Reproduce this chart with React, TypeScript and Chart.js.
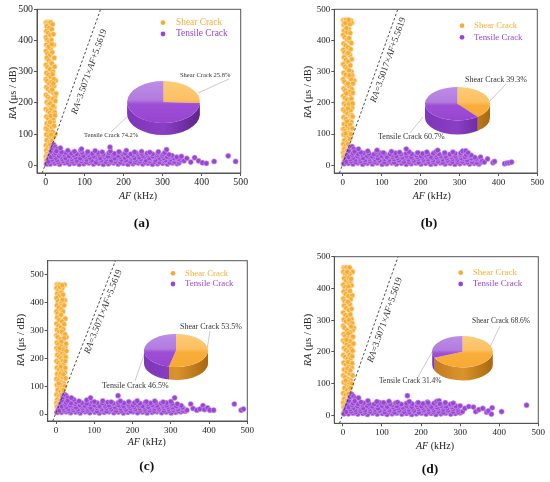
import { useEffect, useRef } from 'react';
import Chart from 'chart.js/auto';

type Pt = [number, number];

// ---- data ----
const xTicks = [0, 100, 200, 300, 400, 500];
const yTicks = [0, 100, 200, 300, 400, 500];
const seriesNames = ['Shear Crack', 'Tensile Crack'];
const captions = ['(a)', '(b)', '(c)', '(d)'];
const slopes = [3.5071, 3.5017, 3.5071, 3.5071];
const intercepts = [5.5619, 5.5619, 5.5619, 5.5619];
const yMaxes = [500, 500, 550, 500];

const sharesA = [25.8, 74.2];
const sharesB = [39.3, 60.7];
const sharesC = [53.5, 46.5];
const sharesD = [68.6, 31.4];

const shearA: Pt[] = [
  [1, 458], [4, 458], [7, 458], [10, 458], [13, 458],
  [3, 446], [9, 440], [2, 430], [6, 424], [12, 418], [1, 410], [4, 402], [9, 396], [2, 386], [7, 380],
  [13, 374], [1, 366], [5, 358], [10, 352], [3, 344], [8, 336], [14, 330], [1, 322], [5, 314], [11, 308],
  [19, 300], [2, 296], [7, 290], [13, 284], [1, 276], [4, 270], [26, 272], [9, 262], [16, 256], [2, 250],
  [6, 244], [12, 238], [20, 232], [1, 226], [5, 220], [10, 214], [15, 208], [3, 202], [8, 196], [13, 190],
  [22, 186], [1, 180], [6, 174], [11, 168], [17, 162], [2, 156], [7, 150], [14, 144], [20, 140], [3, 134],
  [9, 128], [16, 122], [1, 118], [5, 112], [12, 106], [25, 100], [2, 98], [8, 92], [15, 86], [3, 80],
  [10, 74], [18, 70], [1, 64], [6, 58], [13, 54], [2, 48], [8, 42], [4, 36], [1, 28], [6, 22],
  [2, 16], [4, 9], [1, 4],
  [18, 452], [16, 436], [20, 420], [15, 402], [21, 386], [17, 362], [22, 344], [16, 326], [23, 316],
  [18, 292], [21, 276], [15, 266], [22, 254], [17, 242], [24, 220], [19, 212], [12, 198], [23, 170],
  [15, 182], [20, 150], [13, 158], [22, 126], [11, 138], [18, 108], [21, 92], [16, 78], [12, 66],
  [16, 46], [11, 32], [9, 16], [12, 14], [7, 30], [14, 98], [25, 206], [27, 230], [20, 262], [19, 190],
  [24, 160], [8, 380], [16, 388],
];
const tensileA: Pt[] = [
  [3, 4], [6, 14], [9, 22], [12, 32], [15, 44], [18, 55], [21, 65], [25, 58], [30, 52],
  [12, 4], [24, 6], [36, 3], [49, 7], [61, 4], [73, 6], [86, 3], [98, 5], [111, 7], [123, 4], [136, 6],
  [148, 3], [161, 5], [174, 7], [186, 4], [199, 6], [211, 3], [224, 5], [237, 7], [249, 4], [262, 6],
  [274, 3], [287, 5], [300, 6], [312, 4], [325, 7], [337, 5],
  [8, 11], [20, 12], [32, 10], [44, 13], [56, 9], [68, 12], [80, 11], [92, 13], [104, 10], [117, 12],
  [129, 9], [142, 13], [154, 11], [167, 10], [179, 12], [192, 9], [204, 13], [217, 11], [229, 10],
  [242, 12], [255, 9], [267, 13], [280, 11], [292, 10], [305, 12], [318, 9], [330, 11], [342, 8],
  [17, 18], [29, 16], [42, 20], [55, 17], [67, 19], [80, 15], [93, 20], [105, 18], [118, 16], [131, 21],
  [143, 17], [156, 19], [168, 15], [181, 20], [194, 18], [206, 16], [219, 21], [231, 17], [244, 19],
  [257, 15], [269, 20], [282, 17], [294, 19], [307, 16], [320, 18], [333, 20], [345, 15],
  [14, 26], [26, 24], [39, 27], [51, 23], [64, 26], [77, 25], [89, 22], [102, 27], [114, 24], [127, 26],
  [140, 23], [152, 25], [165, 27], [177, 22], [190, 26], [203, 24], [215, 27], [228, 23], [240, 25],
  [253, 27], [266, 22], [278, 26], [291, 24], [303, 23], [316, 25], [329, 22], [341, 20],
  [22, 33], [34, 30], [47, 34], [60, 29], [72, 32], [85, 35], [97, 30], [110, 33], [123, 29], [135, 34],
  [148, 31], [160, 28], [173, 33], [186, 30], [198, 35], [211, 29], [223, 32], [236, 34], [249, 30],
  [261, 33], [274, 28], [286, 32], [299, 30], [311, 27], [324, 31], [336, 26],
  [25, 39], [38, 37], [52, 40], [66, 38], [79, 36], [93, 41], [106, 38], [120, 37], [134, 40], [148, 36],
  [162, 39], [176, 37], [190, 40], [204, 38], [218, 36], [232, 39], [246, 37], [260, 38], [274, 36],
  [288, 38], [302, 35], [316, 34],
  [28, 45], [41, 42], [57, 47], [74, 44], [90, 48], [108, 43], [127, 46], [145, 42], [166, 45], [188, 43],
  [207, 47], [228, 42], [246, 44], [267, 41], [289, 43], [305, 40],
  [38, 55], [92, 52], [165, 58], [310, 50], [348, 28], [355, 14], [362, 22], [372, 10], [382, 24],
  [392, 14], [402, 8], [412, 6], [432, 12], [468, 30], [487, 12],
];

const shearB: Pt[] = [
  [1, 465], [4, 462], [8, 466], [11, 460], [21, 464], [23, 456], [2, 450], [7, 446], [12, 440], [3, 432],
  [9, 426], [1, 418], [5, 410], [11, 404], [17, 398], [2, 390], [7, 384], [13, 378], [1, 370], [4, 362],
  [10, 356], [18, 354], [3, 346], [8, 338], [14, 332], [1, 324], [6, 316], [11, 310], [22, 300], [2, 296],
  [7, 290], [15, 284], [1, 276], [29, 272], [4, 268], [26, 262], [10, 258], [17, 252], [2, 246], [6, 240],
  [13, 234], [20, 228], [1, 222], [5, 216], [11, 210], [17, 204], [3, 198], [8, 192], [14, 186], [24, 184],
  [1, 178], [6, 172], [12, 166], [19, 160], [2, 154], [8, 148], [15, 142], [22, 138], [3, 132], [10, 126],
  [17, 120], [1, 116], [6, 110], [13, 104], [2, 98], [9, 92], [16, 86], [4, 80], [11, 74], [1, 68],
  [7, 62], [14, 58], [3, 52], [9, 46], [1, 40], [5, 34], [2, 26], [6, 20], [3, 12], [1, 6],
  [18, 452], [15, 438], [19, 424], [16, 408], [22, 392], [20, 372], [14, 360], [23, 340], [19, 320],
  [16, 304], [24, 288], [21, 276], [13, 262], [23, 244], [18, 236], [9, 230], [22, 214], [16, 196],
  [25, 198], [20, 176], [13, 182], [23, 160], [11, 140], [19, 130], [24, 118], [14, 96], [21, 100],
  [18, 84], [13, 68], [16, 50], [10, 34], [8, 14], [12, 28], [7, 102], [9, 440], [6, 456], [15, 466],
  [17, 288], [26, 232], [25, 156],
];
const tensileB: Pt[] = [
  [3, 5], [6, 13], [9, 24], [12, 34], [16, 46], [20, 58], [24, 60], [28, 52],
  [14, 6], [26, 4], [38, 7], [51, 3], [63, 6], [76, 4], [88, 7], [101, 3], [113, 5], [126, 7], [138, 4],
  [151, 6], [163, 3], [176, 5], [188, 7], [201, 4], [213, 6], [226, 3], [238, 5], [251, 7], [263, 4],
  [276, 6], [288, 3], [301, 5], [313, 7], [326, 4], [338, 6], [350, 4],
  [9, 11], [21, 12], [33, 10], [45, 13], [57, 9], [70, 12], [82, 11], [95, 13], [107, 10], [120, 12],
  [132, 9], [145, 13], [157, 11], [170, 10], [182, 12], [195, 9], [207, 13], [220, 11], [232, 10],
  [245, 12], [257, 9], [270, 13], [282, 11], [295, 10], [307, 12], [320, 9], [332, 11], [345, 8], [356, 10],
  [19, 19], [32, 17], [44, 21], [57, 16], [69, 20], [82, 18], [94, 15], [107, 20], [119, 17], [132, 19],
  [144, 16], [157, 21], [169, 18], [182, 15], [194, 20], [207, 17], [219, 19], [232, 16], [244, 21],
  [257, 18], [269, 15], [282, 20], [294, 17], [307, 19], [319, 16], [332, 20], [344, 18],
  [15, 26], [27, 24], [40, 27], [52, 23], [65, 26], [78, 25], [90, 22], [103, 27], [115, 24], [128, 26],
  [141, 23], [153, 25], [166, 27], [178, 22], [191, 26], [204, 24], [216, 27], [229, 23], [241, 25],
  [254, 27], [267, 22], [279, 26], [292, 24], [304, 23], [317, 25], [330, 22], [342, 21],
  [24, 32], [37, 29], [50, 34], [62, 30], [75, 28], [88, 33], [100, 30], [113, 27], [126, 32], [138, 29],
  [151, 34], [163, 30], [176, 27], [189, 32], [201, 29], [214, 31], [226, 27], [239, 33], [251, 30],
  [264, 28], [277, 32], [289, 29], [302, 31], [314, 26], [327, 30], [339, 25],
  [26, 38], [39, 36], [53, 39], [67, 37], [80, 35], [94, 40], [107, 37], [121, 36], [135, 39], [149, 35],
  [163, 38], [177, 36], [191, 39], [205, 37], [219, 35], [233, 38], [247, 36], [261, 37], [275, 35],
  [289, 37], [303, 34], [317, 33], [330, 32],
  [30, 44], [46, 41], [64, 45], [87, 43], [104, 40], [125, 44], [146, 41], [170, 43], [193, 40], [216, 42],
  [240, 44], [262, 40], [283, 42], [303, 39],
  [40, 52], [88, 48], [163, 52], [244, 48], [308, 45], [316, 46], [322, 40], [354, 26], [358, 14],
  [364, 10], [372, 20], [386, 8], [390, 12], [416, 5], [422, 7], [428, 8], [434, 10],
];

const shearC: Pt[] = [
  [2, 465], [5, 462], [9, 464], [22, 464], [1, 452], [6, 446], [11, 440], [3, 432], [8, 424], [19, 412],
  [23, 408], [1, 416], [5, 404], [12, 398], [2, 390], [7, 382], [14, 376], [1, 368], [4, 360], [10, 354],
  [3, 346], [8, 338], [24, 342], [15, 332], [1, 324], [6, 316], [12, 310], [2, 302], [8, 296], [17, 290],
  [1, 282], [4, 276], [27, 276], [11, 268], [19, 262], [2, 256], [6, 250], [13, 244], [1, 236], [5, 230],
  [10, 224], [16, 218], [3, 212], [8, 206], [14, 200], [21, 196], [1, 190], [6, 184], [12, 178], [18, 172],
  [2, 166], [8, 160], [15, 154], [23, 150], [3, 144], [10, 138], [17, 132], [1, 126], [6, 120], [13, 114],
  [20, 110], [2, 104], [9, 98], [16, 92], [4, 86], [11, 80], [18, 74], [1, 70], [7, 64], [14, 58],
  [3, 52], [9, 46], [1, 40], [5, 34], [2, 26], [6, 20], [3, 12], [1, 6],
  [16, 452], [14, 436], [18, 428], [15, 404], [21, 390], [18, 368], [13, 356], [21, 322], [19, 304],
  [15, 296], [23, 286], [21, 272], [14, 260], [24, 240], [18, 232], [9, 236], [22, 210], [17, 190],
  [25, 204], [20, 180], [13, 170], [24, 166], [12, 146], [19, 142], [25, 128], [15, 104], [22, 100],
  [19, 86], [14, 68], [16, 50], [10, 32], [8, 14], [12, 26], [7, 110], [10, 456], [16, 462], [26, 252],
  [24, 190], [17, 410], [27, 226],
];
const tensileC: Pt[] = [
  [3, 6], [6, 15], [9, 25], [12, 36], [16, 48], [19, 60], [22, 70], [26, 66], [30, 58],
  [14, 6], [26, 8], [38, 5], [51, 7], [63, 4], [76, 8], [88, 5], [101, 7], [113, 4], [126, 6], [138, 8],
  [151, 5], [163, 7], [176, 4], [188, 6], [201, 8], [213, 5], [226, 7], [238, 4], [251, 6], [263, 8],
  [276, 5], [288, 7], [301, 4], [313, 6], [326, 8], [338, 10],
  [9, 12], [21, 13], [33, 11], [45, 14], [57, 10], [70, 13], [82, 12], [95, 14], [107, 11], [120, 13],
  [132, 10], [145, 14], [157, 12], [170, 11], [182, 13], [195, 10], [207, 14], [220, 12], [232, 11],
  [245, 13], [257, 10], [270, 14], [282, 12], [295, 11], [307, 13], [320, 10], [332, 12], [342, 14],
  [19, 20], [32, 18], [44, 22], [57, 17], [69, 21], [82, 19], [94, 16], [107, 21], [119, 18], [132, 20],
  [144, 17], [157, 22], [169, 19], [182, 16], [194, 21], [207, 18], [219, 20], [232, 17], [244, 22],
  [257, 19], [269, 16], [282, 21], [294, 18], [307, 20], [319, 17], [332, 21],
  [15, 27], [27, 25], [40, 28], [52, 24], [65, 27], [78, 26], [90, 23], [103, 28], [115, 25], [128, 27],
  [141, 24], [153, 26], [166, 28], [178, 23], [191, 27], [204, 25], [216, 28], [229, 24], [241, 26],
  [254, 28], [267, 23], [279, 27], [292, 25], [304, 24], [317, 26], [330, 23],
  [24, 34], [37, 31], [50, 36], [62, 32], [75, 30], [88, 35], [100, 32], [113, 29], [126, 34], [138, 31],
  [151, 36], [163, 32], [176, 29], [189, 34], [201, 31], [214, 33], [226, 29], [239, 35], [251, 32],
  [264, 30], [277, 34], [289, 31], [302, 33], [314, 28], [327, 30],
  [26, 41], [39, 39], [53, 42], [67, 40], [80, 38], [94, 43], [107, 40], [121, 39], [135, 42], [149, 38],
  [163, 41], [177, 39], [191, 42], [205, 40], [219, 38], [233, 41], [247, 39], [261, 40], [275, 38],
  [289, 40], [303, 37], [317, 36],
  [30, 48], [46, 52], [60, 46], [80, 50], [100, 44], [122, 47], [144, 43], [168, 46], [190, 44], [212, 47],
  [236, 44], [258, 46], [280, 43], [300, 45],
  [40, 58], [90, 58], [162, 66], [310, 58], [352, 36], [358, 20], [368, 14], [376, 18], [384, 30],
  [388, 16], [396, 22], [402, 14], [412, 14], [466, 36], [484, 14], [490, 18],
];

const shearD: Pt[] = [
  [2, 466], [5, 463], [9, 466], [13, 460], [20, 458], [25, 452], [1, 452], [6, 446], [11, 440], [3, 432],
  [8, 424], [15, 418], [22, 410], [1, 412], [5, 404], [12, 398], [2, 390], [7, 382], [14, 376], [24, 378],
  [1, 368], [4, 360], [10, 354], [18, 350], [3, 346], [8, 338], [15, 332], [1, 324], [6, 316], [12, 310],
  [22, 304], [2, 302], [8, 296], [17, 290], [1, 282], [4, 276], [28, 276], [25, 268], [11, 268], [19, 262],
  [2, 256], [6, 250], [13, 244], [1, 236], [5, 230], [10, 224], [16, 218], [3, 212], [8, 206], [14, 200],
  [21, 196], [1, 190], [6, 184], [12, 178], [18, 172], [2, 166], [8, 160], [15, 154], [23, 150], [3, 144],
  [10, 138], [17, 132], [1, 126], [6, 120], [13, 114], [20, 110], [2, 104], [9, 98], [16, 92], [4, 86],
  [11, 80], [18, 74], [1, 70], [7, 64], [14, 58], [3, 52], [9, 46], [1, 40], [5, 34], [2, 26],
  [6, 20], [3, 12], [1, 6],
  [17, 446], [15, 432], [19, 424], [14, 406], [18, 392], [20, 366], [13, 358], [22, 336], [19, 318],
  [16, 300], [24, 290], [21, 280], [14, 258], [23, 244], [18, 234], [9, 238], [22, 210], [17, 190],
  [25, 204], [20, 180], [13, 168], [24, 164], [12, 148], [19, 142], [25, 126], [15, 104], [22, 100],
  [19, 86], [14, 68], [16, 50], [10, 32], [8, 14], [12, 26], [7, 110], [17, 466], [11, 452], [26, 248],
  [24, 186], [21, 430], [27, 226],
];
const tensileD: Pt[] = [
  [3, 5], [6, 14], [9, 24], [12, 34], [16, 46], [19, 58], [23, 66], [27, 60], [32, 54],
  [14, 5], [26, 7], [38, 4], [51, 6], [63, 3], [76, 7], [88, 4], [101, 6], [113, 3], [126, 5], [138, 7],
  [151, 4], [163, 6], [176, 3], [188, 5], [201, 7], [213, 4], [226, 6], [238, 3], [251, 5], [263, 7],
  [276, 4], [288, 6], [300, 8],
  [9, 11], [21, 12], [33, 10], [45, 13], [57, 9], [70, 12], [82, 11], [95, 13], [107, 10], [120, 12],
  [132, 9], [145, 13], [157, 11], [170, 10], [182, 12], [195, 9], [207, 13], [220, 11], [232, 10],
  [245, 12], [257, 9], [270, 13], [282, 11], [295, 10], [306, 12],
  [19, 19], [32, 17], [44, 21], [57, 16], [69, 20], [82, 18], [94, 15], [107, 20], [119, 17], [132, 19],
  [144, 16], [157, 21], [169, 18], [182, 15], [194, 20], [207, 17], [219, 19], [232, 16], [244, 21],
  [257, 18], [269, 15], [282, 20], [294, 17],
  [15, 26], [27, 24], [40, 27], [52, 23], [65, 26], [78, 25], [90, 22], [103, 27], [115, 24], [128, 26],
  [141, 23], [153, 25], [166, 27], [178, 22], [191, 26], [204, 24], [216, 27], [229, 23], [241, 25],
  [254, 27], [267, 22], [279, 26], [292, 24],
  [24, 32], [37, 29], [50, 34], [62, 30], [75, 28], [88, 33], [100, 30], [113, 27], [126, 32], [138, 29],
  [151, 34], [163, 30], [176, 27], [189, 32], [201, 29], [214, 31], [226, 27], [239, 33], [251, 30],
  [264, 28], [277, 32], [289, 29],
  [26, 38], [39, 36], [53, 39], [67, 37], [80, 35], [94, 40], [107, 37], [121, 36], [135, 39], [149, 35],
  [163, 38], [177, 36], [191, 39], [205, 37], [219, 35], [233, 38], [247, 36], [261, 37], [275, 35],
  [30, 45], [46, 42], [64, 46], [87, 43], [104, 40], [118, 44], [140, 41], [170, 43], [193, 40], [216, 42],
  [240, 44], [262, 40], [283, 38],
  [40, 55], [165, 62], [218, 40], [246, 46], [248, 36], [282, 38], [300, 30], [312, 22], [322, 28],
  [334, 26], [340, 12], [348, 18], [358, 22], [368, 10], [372, 14], [380, 4], [382, 24], [406, 12], [470, 32],
];

// ---- styling / layout ----
const SERIF = '"Liberation Serif", "Times New Roman", serif';
const SHEAR = '#F7AD35';
const TENSILE = '#9B45D2';
const X_MIN = -22;
const Y_MIN = -25;
const Y_AXIS_W = 28;
const X_AXIS_H = 18;
const DOT_R = 2.6;

interface Layout {
  ox: number; oy: number; w: number; h: number;
  area: { l: number; t: number; r: number; b: number };
  tickSize: number; legendSize: number; labelSize: number;
  legend: { dotX: number; y1: number; y2: number; textX: number };
  yTitle: [number, number]; xTitle: [number, number];
  eq: [number, number];
  pie: { cx: number; cy: number; rx: number; ry: number; t: number };
  shearLabel: [number, number]; shearLead: [number, number, number, number];
  tensileLabel: [number, number]; tensileLead: [number, number, number, number];
  caption: [number, number];
}

const layouts: Layout[] = [
  {
    ox: 0, oy: 0, w: 275, h: 240, area: { l: 37, t: 9.3, r: 240.7, b: 173 },
    tickSize: 9.8, legendSize: 9.4, labelSize: 6.5,
    legend: { dotX: 163, y1: 22.7, y2: 34, textX: 176 },
    yTitle: [13.3, 93], xTitle: [138, 196.7], eq: [89.3, 71.7],
    pie: { cx: 163.7, cy: 102, rx: 36.4, ry: 21, t: 12 },
    shearLabel: [180, 75], shearLead: [229, 79, 198, 93],
    tensileLabel: [84, 135], tensileLead: [111, 132, 128, 116],
    caption: [141.7, 224],
  },
  {
    ox: 275, oy: 0, w: 275, h: 240, area: { l: 59.3, t: 9.3, r: 262.3, b: 173 },
    tickSize: 9, legendSize: 8.8, labelSize: 8,
    legend: { dotX: 187, y1: 25.7, y2: 37.3, textX: 199 },
    yTitle: [33.3, 92], xTitle: [156.7, 196.7], eq: [113.3, 60],
    pie: { cx: 182.5, cy: 103.3, rx: 32.5, ry: 16.7, t: 14 },
    shearLabel: [190, 80], shearLead: [231, 84, 214, 102],
    tensileLabel: [103, 137], tensileLead: [135, 133, 148, 117],
    caption: [154, 224],
  },
  {
    ox: 0, oy: 240, w: 275, h: 242, area: { l: 47.7, t: 20.7, r: 247.3, b: 181 },
    tickSize: 9, legendSize: 8.8, labelSize: 8,
    legend: { dotX: 173, y1: 33.3, y2: 44, textX: 185 },
    yTitle: [21.7, 100], xTitle: [146.7, 202.7], eq: [103.3, 71.7],
    pie: { cx: 176.3, cy: 110.3, rx: 32, ry: 16.5, t: 13 },
    shearLabel: [180, 87], shearLead: [210, 91, 207, 110],
    tensileLabel: [102, 146], tensileLead: [135, 141, 145, 112],
    caption: [146.7, 227],
  },
  {
    ox: 275, oy: 240, w: 275, h: 242, area: { l: 59.3, t: 16.7, r: 263.3, b: 183.3 },
    tickSize: 9, legendSize: 9, labelSize: 7.5,
    legend: { dotX: 185.7, y1: 32.7, y2: 44, textX: 197.7 },
    yTitle: [33.3, 100], xTitle: [160, 206.7], eq: [110, 80],
    pie: { cx: 187, cy: 111.3, rx: 30.3, ry: 15.7, t: 13 },
    shearLabel: [197, 81], shearLead: [225, 86, 215, 107],
    tensileLabel: [104, 141], tensileLead: [143, 137, 157, 112],
    caption: [155, 230],
  },
];

const panelData = [
  { shear: shearA, tensile: tensileA, shares: sharesA },
  { shear: shearB, tensile: tensileB, shares: sharesB },
  { shear: shearC, tensile: tensileC, shares: sharesC },
  { shear: shearD, tensile: tensileD, shares: sharesD },
];

function richText(
  ctx: CanvasRenderingContext2D, parts: [string, boolean][], x: number, y: number, size: number,
) {
  const widths = parts.map(([t, it]) => {
    ctx.font = `${it ? 'italic ' : ''}${size}px ${SERIF}`;
    return ctx.measureText(t).width;
  });
  let cx = x - widths.reduce((a, b) => a + b, 0) / 2;
  ctx.textAlign = 'left';
  ctx.textBaseline = 'middle';
  parts.forEach(([t, it], i) => {
    ctx.font = `${it ? 'italic ' : ''}${size}px ${SERIF}`;
    ctx.fillText(t, cx, y);
    cx += widths[i];
  });
}

function decorPlugin(i: number) {
  const L = layouts[i];
  const { shares } = panelData[i];
  return {
    id: 'decor' + i,
    afterDraw(chart: any) {
      const ctx: CanvasRenderingContext2D = chart.ctx;
      const { left, top, right, bottom } = chart.chartArea;
      const xs = chart.scales.x;
      const ys = chart.scales.y;
      ctx.save();
      ctx.strokeStyle = '#555';
      ctx.lineWidth = 1;
      ctx.strokeRect(left, top, right - left, bottom - top);

      // legend
      const rows: [string, string, number][] = [
        [seriesNames[0], SHEAR, L.legend.y1],
        [seriesNames[1], TENSILE, L.legend.y2],
      ];
      rows.forEach(([name, col, y]) => {
        ctx.fillStyle = col;
        ctx.beginPath();
        ctx.arc(L.legend.dotX, y, 2.4, 0, Math.PI * 2);
        ctx.fill();
        ctx.font = `${L.legendSize}px ${SERIF}`;
        ctx.textAlign = 'left';
        ctx.textBaseline = 'middle';
        ctx.fillText(name, L.legend.textX, y);
      });

      // axis titles
      ctx.fillStyle = '#222';
      richText(ctx, [['AF', true], [' (kHz)', false]], L.xTitle[0], L.xTitle[1], 10);
      ctx.save();
      ctx.translate(L.yTitle[0], L.yTitle[1]);
      ctx.rotate(-Math.PI / 2);
      richText(ctx, [['RA', true], [' (μs / dB)', false]], 0, 0, 10.5);
      ctx.restore();

      // equation along the dashed line
      const p0x = xs.getPixelForValue(0);
      const p0y = ys.getPixelForValue(intercepts[i]);
      const p1x = xs.getPixelForValue(100);
      const p1y = ys.getPixelForValue(slopes[i] * 100 + intercepts[i]);
      const ang = Math.atan2(p1y - p0y, p1x - p0x);
      ctx.save();
      ctx.translate(L.eq[0], L.eq[1]);
      ctx.rotate(ang);
      ctx.fillStyle = '#333';
      richText(ctx, [['RA', true], [`=${slopes[i].toFixed(4)}×`, false], ['AF', true], [`+${intercepts[i].toFixed(4)}`, false]], 0, 0, 9.3);
      ctx.restore();

      // pie labels
      ctx.strokeStyle = '#b5b5b5';
      ctx.lineWidth = 0.7;
      [L.shearLead, L.tensileLead].forEach(([a, b, c, d]) => {
        ctx.beginPath();
        ctx.moveTo(a, b);
        ctx.lineTo(c, d);
        ctx.stroke();
      });
      ctx.fillStyle = '#333';
      ctx.font = `${L.labelSize}px ${SERIF}`;
      ctx.textAlign = 'left';
      ctx.textBaseline = 'middle';
      ctx.fillText(`${seriesNames[0]} ${shares[0].toFixed(1)}%`, L.shearLabel[0], L.shearLabel[1]);
      ctx.fillText(`${seriesNames[1]} ${shares[1].toFixed(1)}%`, L.tensileLabel[0], L.tensileLabel[1]);

      // caption
      ctx.fillStyle = '#111';
      ctx.font = `bold 13.5px ${SERIF}`;
      ctx.textAlign = 'center';
      ctx.fillText(captions[i], L.caption[0], L.caption[1]);
      ctx.restore();
    },
  };
}

const topStops: [number, string][][] = [
  [[0, '#FDCB78'], [0.45, '#FCC062'], [0.55, '#F9AE3A'], [1, '#F7A935']],
  [[0, '#BD8DE6'], [0.45, '#B27CDF'], [0.55, '#9E4ED5'], [1, '#9745D0']],
];
const wallStops: [number, string][][] = [
  [[0, '#C07A1E'], [0.5, '#DA942E'], [1, '#A9680F']],
  [[0, '#7F36B8'], [0.5, '#8A3EC4'], [1, '#5F238C']],
];

function tiltPlugin(i: number) {
  const g = layouts[i].pie;
  return {
    id: 'tilt' + i,
    beforeDatasetsDraw(chart: any) {
      const arcs = chart.getDatasetMeta(0).data as any[];
      if (!arcs.length) return;
      const { x: cx, y: cy, outerRadius: R } = arcs[0];
      const ctx: CanvasRenderingContext2D = chart.ctx;
      const k = g.ry / R;
      ctx.save();
      ctx.translate(cx, 2 + g.ry);
      ctx.scale(g.rx / R, k);
      ctx.translate(-cx, -cy);
      const T = g.t / k;
      arcs.forEach((arc, j) => {
        const a = Math.max(arc.startAngle, 0);
        const b = Math.min(arc.endAngle, Math.PI);
        if (a >= b) return;
        const grad = ctx.createLinearGradient(cx - R, 0, cx + R, 0);
        wallStops[j].forEach(([o, c]) => grad.addColorStop(o, c));
        ctx.beginPath();
        ctx.arc(cx, cy, R, a, b);
        ctx.arc(cx, cy + T, R, b, a, true);
        ctx.closePath();
        ctx.fillStyle = grad;
        ctx.fill();
      });
    },
    afterDatasetsDraw(chart: any) {
      chart.ctx.restore();
    },
  };
}

function Panel({ index }: { index: number }) {
  const canvasRef = useRef<HTMLCanvasElement | null>(null);
  const pieRef = useRef<HTMLCanvasElement | null>(null);
  const L = layouts[index];
  const { shear, tensile, shares } = panelData[index];
  const pieSize = Math.ceil(2 * L.pie.rx + 4);

  useEffect(() => {
    if (!canvasRef.current || !pieRef.current) return undefined;
    const yMax = yMaxes[index];
    const m = slopes[index];
    const c0 = intercepts[index];
    const tickFont = { family: SERIF, size: L.tickSize };

    const chart = new Chart(canvasRef.current, {
      type: 'scatter',
      data: {
        datasets: [
          {
            type: 'line',
            data: [{ x: (Y_MIN - c0) / m, y: Y_MIN }, { x: (yMax - c0) / m, y: yMax }],
            borderColor: '#3a3a3a',
            borderWidth: 0.9,
            borderDash: [2.5, 2],
            pointRadius: 0,
            fill: false,
          },
          {
            label: seriesNames[1],
            data: tensile.map(([x, y]) => ({ x, y })),
            backgroundColor: TENSILE,
            borderColor: '#C9A2EC',
            borderWidth: 0.6,
            pointRadius: DOT_R,
          },
          {
            label: seriesNames[0],
            data: shear.map(([x, y]) => ({ x, y })),
            backgroundColor: SHEAR,
            borderColor: '#FFE6B8',
            borderWidth: 0.6,
            pointRadius: DOT_R,
          },
        ],
      } as any,
      options: {
        animation: false,
        responsive: false,
        events: [],
        layout: {
          padding: {
            left: L.area.l - Y_AXIS_W,
            top: L.area.t,
            right: L.w - L.area.r,
            bottom: L.h - L.area.b - X_AXIS_H,
          },
        },
        plugins: { legend: { display: false }, tooltip: { enabled: false } },
        scales: {
          x: {
            type: 'linear',
            min: X_MIN,
            max: 500,
            afterBuildTicks: (a: any) => { a.ticks = xTicks.map((v) => ({ value: v })); },
            afterFit: (a: any) => { a.height = X_AXIS_H; a.paddingLeft = 0; a.paddingRight = 0; },
            ticks: { font: tickFont, color: '#222', padding: 1, maxRotation: 0, autoSkip: false },
            grid: { drawOnChartArea: false, tickLength: 3, color: '#555' },
            border: { color: '#555' },
          },
          y: {
            type: 'linear',
            min: Y_MIN,
            max: yMax,
            afterBuildTicks: (a: any) => { a.ticks = yTicks.map((v) => ({ value: v })); },
            afterFit: (a: any) => { a.width = Y_AXIS_W; a.paddingTop = 0; a.paddingBottom = 0; },
            ticks: { font: tickFont, color: '#222', padding: 1, autoSkip: false },
            grid: { drawOnChartArea: false, tickLength: 3, color: '#555' },
            border: { color: '#555' },
          },
        },
      },
      plugins: [decorPlugin(index)],
    });

    const pie = new Chart(pieRef.current, {
      type: 'pie',
      data: {
        labels: seriesNames,
        datasets: [
          {
            data: shares,
            backgroundColor: (ctx: any) => {
              const ch = ctx.chart;
              const h = ch.height;
              const grad = ch.ctx.createLinearGradient(0, 0, 0, h);
              topStops[ctx.dataIndex].forEach(([o, c]) => grad.addColorStop(o, c));
              return grad;
            },
            borderWidth: 0,
            offset: 0,
            hoverOffset: 0,
          },
        ],
      } as any,
      options: {
        animation: false,
        responsive: false,
        events: [],
        layout: { padding: 0 },
        plugins: { legend: { display: false }, tooltip: { enabled: false } },
      },
      plugins: [tiltPlugin(index)],
    });

    return () => {
      chart.destroy();
      pie.destroy();
    };
  }, [index]);

  return (
    <div style={{ position: 'absolute', left: L.ox, top: L.oy, width: L.w, height: L.h }}>
      <canvas ref={canvasRef} width={L.w} height={L.h} style={{ position: 'absolute', left: 0, top: 0 }} />
      <canvas
        ref={pieRef}
        width={pieSize}
        height={pieSize}
        style={{
          position: 'absolute',
          left: L.pie.cx - pieSize / 2,
          top: L.pie.cy - L.pie.ry - 2,
        }}
      />
    </div>
  );
}

export default function App() {
  return (
    <div style={{ position: 'absolute', left: 0, top: 0, width: 550, height: 482, background: '#fff' }}>
      {layouts.map((_, i) => <Panel key={i} index={i} />)}
    </div>
  );
}
